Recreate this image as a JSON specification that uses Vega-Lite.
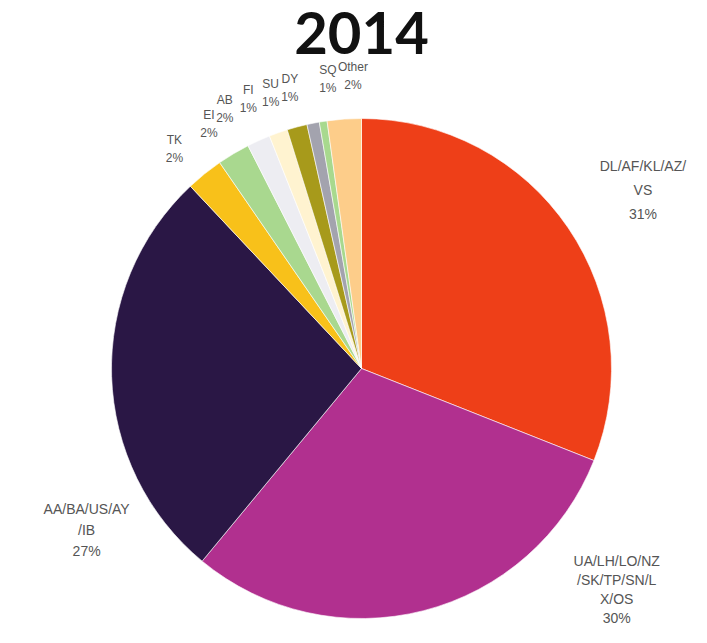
{
  "$schema": "https://vega.github.io/schema/vega-lite/v6.json",
  "autosize": {"type": "none"},
  "width": 691,
  "height": 549,
  "padding": {"left": 16, "top": 94, "right": 0, "bottom": 0},
  "background": "white",
  "title": {
    "text": "2014",
    "font": "Lato",
    "fontSize": 58,
    "fontWeight": "bold",
    "color": "#111111",
    "anchor": "middle",
    "frame": "group",
    "offset": -5
  },
  "data": {
    "values": [
      {"idx": 1, "carrier": "DL/AF/KL/AZ/VS", "share": 31, "label": "DL/AF/KL/AZ/\nVS\n31%"},
      {"idx": 2, "carrier": "UA/LH/LO/NZ/SK/TP/SN/LX/OS", "share": 30, "label": "UA/LH/LO/NZ\n/SK/TP/SN/L\nX/OS\n30%"},
      {"idx": 3, "carrier": "AA/BA/US/AY/IB", "share": 27, "label": "AA/BA/US/AY\n/IB\n27%"},
      {"idx": 4, "carrier": "TK", "share": 2.4, "label": "TK\n2%"},
      {"idx": 5, "carrier": "EI", "share": 2.1, "label": "EI\n2%"},
      {"idx": 6, "carrier": "AB", "share": 1.5, "label": "AB\n2%"},
      {"idx": 7, "carrier": "FI", "share": 1.2, "label": "FI\n1%"},
      {"idx": 8, "carrier": "SU", "share": 1.3, "label": "SU\n1%"},
      {"idx": 9, "carrier": "DY", "share": 0.8, "label": "DY\n1%"},
      {"idx": 10, "carrier": "SQ", "share": 0.5, "label": "SQ\n1%"},
      {"idx": 11, "carrier": "Other", "share": 2.2, "label": "Other\n2%"}
    ]
  },
  "encoding": {
    "theta": {"field": "share", "type": "quantitative", "stack": true},
    "order": {"field": "idx", "type": "quantitative"},
    "color": {
      "field": "carrier",
      "type": "nominal",
      "legend": null,
      "scale": {
        "domain": ["DL/AF/KL/AZ/VS", "UA/LH/LO/NZ/SK/TP/SN/LX/OS", "AA/BA/US/AY/IB", "TK", "EI", "AB", "FI", "SU", "DY", "SQ", "Other"],
        "range": ["#EE3F18", "#B1308F", "#2A1745", "#F8C11A", "#A9D88F", "#EDEDF2", "#FFF3D0", "#A79A1B", "#A3A3AE", "#A8D98E", "#FDCD8A"]
      }
    }
  },
  "layer": [
    {
      "mark": {"type": "arc", "outerRadius": 250, "stroke": "white", "strokeWidth": 0.6}
    },
    {
      "mark": {"type": "text", "radius": 298, "fontSize": 12, "font": "Liberation Sans", "lineBreak": "\n", "lineHeight": 18, "align": "center", "baseline": "middle", "dy": 3},
      "encoding": {"text": {"condition": {"test": "datum.carrier == 'TK' || datum.carrier == 'EI'", "field": "label"}, "value": ""}, "color": {"value": "#555555"}}
    },
    {
      "mark": {"type": "text", "radius": 298, "fontSize": 12, "font": "Liberation Sans", "lineBreak": "\n", "lineHeight": 18, "align": "center", "baseline": "middle", "dx": -14, "dy": 3},
      "encoding": {"text": {"condition": {"test": "indexof(['AB','FI','SU','DY'], datum.carrier) >= 0", "field": "label"}, "value": ""}, "color": {"value": "#555555"}}
    },
    {
      "mark": {"type": "text", "radius": 298, "fontSize": 12, "font": "Liberation Sans", "lineBreak": "\n", "lineHeight": 18, "align": "center", "baseline": "middle", "dx": 12, "dy": -4},
      "encoding": {"text": {"condition": {"test": "datum.carrier == 'SQ' || datum.carrier == 'Other'", "field": "label"}, "value": ""}, "color": {"value": "#555555"}}
    },
    {
      "mark": {"type": "text", "radius": 200, "fontSize": 14, "font": "Liberation Sans", "lineBreak": "\n", "lineHeight": 24, "align": "center", "baseline": "middle", "dx": 116, "dy": -89},
      "encoding": {"text": {"condition": {"test": "datum.idx == 1", "field": "label"}, "value": ""}, "color": {"value": "#555555"}}
    },
    {
      "mark": {"type": "text", "radius": 230, "fontSize": 14, "font": "Liberation Sans", "lineBreak": "\n", "lineHeight": 19, "align": "center", "baseline": "middle", "dx": 198, "dy": -29},
      "encoding": {"text": {"condition": {"test": "datum.idx == 2", "field": "label"}, "value": ""}, "color": {"value": "#555555"}}
    },
    {
      "mark": {"type": "text", "radius": 280, "fontSize": 14, "font": "Liberation Sans", "lineBreak": "\n", "lineHeight": 21, "align": "center", "baseline": "middle", "dy": 133, "dx": 5},
      "encoding": {"text": {"condition": {"test": "datum.idx == 3", "field": "label"}, "value": ""}, "color": {"value": "#555555"}}
    }
  ],
  "config": {"view": {"stroke": null}}
}
